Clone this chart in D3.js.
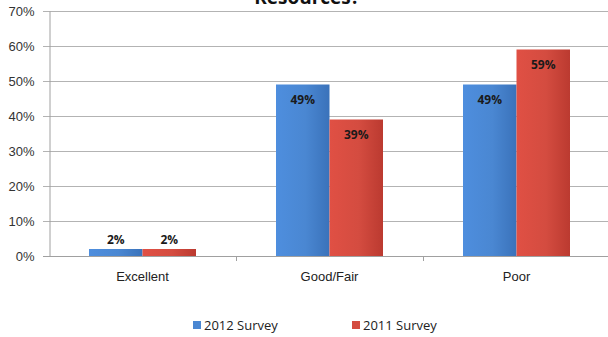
<!DOCTYPE html>
<html>
<head>
<meta charset="utf-8">
<script src="https://cdn.jsdelivr.net/npm/d3@7"></script>
<style>
  html, body { margin: 0; padding: 0; background: #fff; }
  svg { display: block; font-family: "Open Sans", "Noto Sans", sans-serif; }
</style>
</head>
<body>
<svg id="chart" width="608" height="337"></svg>
<script>
const categories = ["Excellent", "Good/Fair", "Poor"];
const seriesNames = ["2012 Survey", "2011 Survey"];
const survey2012 = [2, 49, 49];
const survey2011 = [2, 39, 59];
const yTicks = [0, 10, 20, 30, 40, 50, 60, 70];
const colors = ["#4a87d2", "#d44c40"];
const darkColors = ["#3a72ba", "#bb3a30"];

const svg = d3.select("#chart");
const margin = { left: 49, right: 0, top: 11, bottom: 81 };
const W = 608, H = 337;

const x = d3.scaleBand().domain(categories).range([49, 610]).paddingInner(0).paddingOuter(0);
const y = d3.scaleLinear().domain([0, 70]).range([256, 11]);

// Gradients for bar fills
const defs = svg.append("defs");
colors.forEach((c, i) => {
  const g = defs.append("linearGradient").attr("id", "g" + i)
    .attr("x1", 0).attr("x2", 1).attr("y1", 0).attr("y2", 0);
  g.append("stop").attr("offset", "0%").attr("stop-color", d3.color(c).brighter(0.15));
  g.append("stop").attr("offset", "55%").attr("stop-color", c);
  g.append("stop").attr("offset", "100%").attr("stop-color", darkColors[i]);
});

// Title (partly clipped at the top)
svg.append("text").attr("x", 307).attr("y", 4)
  .attr("text-anchor", "middle").attr("font-size", 19).attr("font-weight", "bold")
  .attr("fill", "#111").text("Resources?");

// Gridlines
svg.append("g").selectAll("line").data(yTicks).join("line")
  .attr("x1", 43).attr("x2", 608)
  .attr("y1", d => Math.round(y(d)) + 0.5).attr("y2", d => Math.round(y(d)) + 0.5)
  .attr("stroke", "#b3b3b3").attr("stroke-width", 1);

// Y axis
const yAxis = d3.axisLeft(y).tickValues(yTicks).tickFormat(d => d + "%").tickSize(0).tickPadding(15);
const gy = svg.append("g").attr("transform", "translate(49.5,0)").call(yAxis);
gy.select(".domain").attr("stroke", "#a0a0a0");
gy.selectAll("text").attr("font-size", 13).attr("fill", "#333");

// Bars
const sub = d3.scaleBand().domain([0, 1]).range([0, 107]);
const seriesData = [survey2012, survey2011];
const groups = svg.append("g").selectAll("g").data(categories).join("g")
  .attr("transform", d => `translate(${x(d) + x.bandwidth() / 2 - 53.5},0)`);

groups.each(function (cat, ci) {
  const g = d3.select(this);
  seriesData.forEach((vals, si) => {
    const v = vals[ci];
    g.append("rect")
      .attr("x", sub(si)).attr("width", sub.bandwidth())
      .attr("y", y(v)).attr("height", y(0) - y(v))
      .attr("fill", `url(#g${si})`);
    const inside = v > 10;
    g.append("text")
      .attr("x", sub(si) + sub.bandwidth() / 2)
      .attr("y", inside ? y(v) + 19 : y(v) - 5)
      .attr("text-anchor", "middle").attr("font-size", 12).attr("font-weight", "bold")
      .attr("fill", "#1a1a1a").text(v + "%");
  });
});

// X axis
const xAxis = d3.axisBottom(x).tickSize(0).tickPadding(15);
const gx = svg.append("g").attr("transform", `translate(0,${Math.round(y(0)) + 0.5})`).call(xAxis);
gx.select(".domain").attr("stroke", "#a0a0a0").attr("d", "M43,0H608");
gx.selectAll("text").attr("font-size", 13).attr("fill", "#222");
// Category boundary tick marks
svg.append("g").selectAll("line").data(categories.slice(1)).join("line")
  .attr("x1", d => Math.round(x(d)) + 0.5).attr("x2", d => Math.round(x(d)) + 0.5)
  .attr("y1", y(0)).attr("y2", y(0) + 5).attr("stroke", "#a0a0a0");

// Legend
const legendX = [193, 352];
const lg = svg.append("g").selectAll("g").data(seriesNames).join("g")
  .attr("transform", (d, i) => `translate(${legendX[i]},325)`);
lg.append("rect").attr("x", 0).attr("y", -4).attr("width", 8).attr("height", 8)
  .attr("fill", (d, i) => colors[i]);
lg.append("text").attr("x", 11).attr("y", 4.5).attr("font-size", 13).attr("fill", "#222").text(d => d);
</script>
</body>
</html>
